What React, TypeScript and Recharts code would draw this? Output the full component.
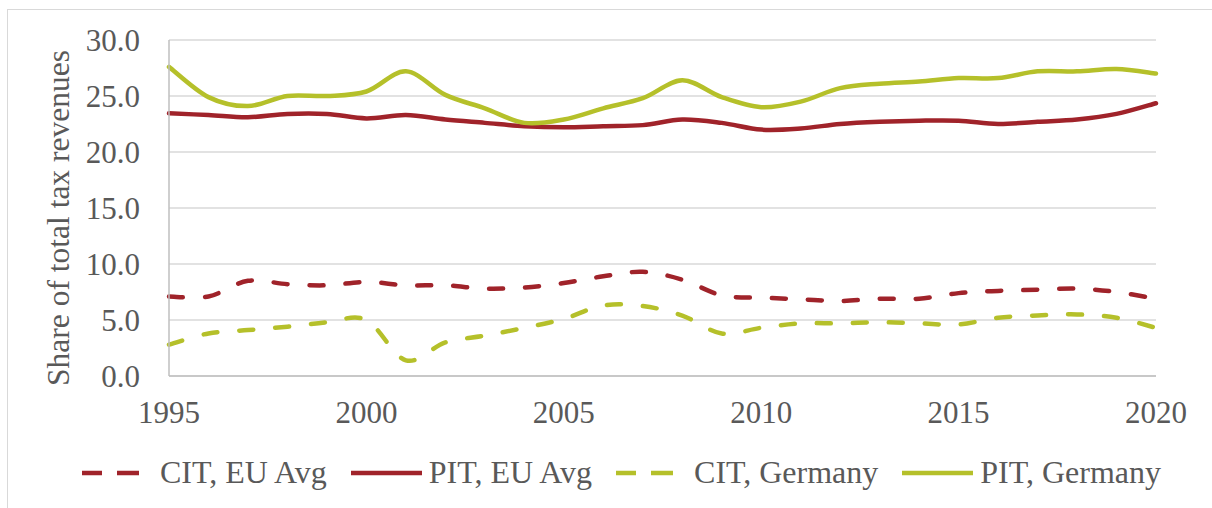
import React from "react";
import { LineChart, Line, XAxis, YAxis, CartesianGrid, Legend } from "recharts";

const years = [
  1995, 1996, 1997, 1998, 1999, 2000, 2001, 2002, 2003, 2004, 2005, 2006, 2007,
  2008, 2009, 2010, 2011, 2012, 2013, 2014, 2015, 2016, 2017, 2018, 2019, 2020,
];
const citEu = [
  7.1, 7.1, 8.5, 8.2, 8.1, 8.4, 8.1, 8.1, 7.8, 7.9, 8.3, 8.9, 9.3, 8.6, 7.2,
  7.0, 6.85, 6.7, 6.9, 6.9, 7.4, 7.6, 7.7, 7.8, 7.5, 6.9,
];
const pitEu = [
  23.45, 23.3, 23.1, 23.4, 23.4, 23.0, 23.3, 22.9, 22.6, 22.3, 22.2, 22.3,
  22.4, 22.9, 22.6, 22.0, 22.1, 22.5, 22.7, 22.8, 22.8, 22.5, 22.7, 22.9, 23.4,
  24.35,
];
const citDe = [
  2.8, 3.8, 4.1, 4.4, 4.8, 5.0, 1.4, 3.0, 3.6, 4.3, 5.1, 6.3, 6.25, 5.4, 3.8,
  4.3, 4.7, 4.7, 4.8, 4.7, 4.6, 5.2, 5.4, 5.5, 5.2, 4.3,
];
const pitDe = [
  27.6, 24.9, 24.1, 25.0, 25.0, 25.4, 27.2, 25.1, 23.9, 22.6, 22.9, 23.9, 24.8,
  26.4, 24.9, 24.0, 24.5, 25.7, 26.1, 26.3, 26.6, 26.6, 27.2, 27.2, 27.4, 27.0,
];
const yTicks = [0, 5, 10, 15, 20, 25, 30];
const xTicks = [1995, 2000, 2005, 2010, 2015, 2020];

const RED = "#a0232a";
const GREEN = "#b5c02a";
const FONT = '"Liberation Serif", "Times New Roman", serif';

const series = [
  { key: "citEu", name: "CIT, EU Avg", color: RED, dashed: true },
  { key: "pitEu", name: "PIT, EU Avg", color: RED, dashed: false },
  { key: "citDe", name: "CIT, Germany", color: GREEN, dashed: true },
  { key: "pitDe", name: "PIT, Germany", color: GREEN, dashed: false },
];

const data = years.map((year, i) => ({
  year,
  citEu: citEu[i],
  pitEu: pitEu[i],
  citDe: citDe[i],
  pitDe: pitDe[i],
}));

// Excel-style smoothing (uniform Catmull-Rom as cubic beziers)
function excelSmooth(context: any) {
  let pts: number[][] = [];
  return {
    areaStart() {},
    areaEnd() {},
    lineStart() {
      pts = [];
    },
    point(x: number, y: number) {
      pts.push([+x, +y]);
    },
    lineEnd() {
      if (!pts.length) return;
      context.moveTo(pts[0][0], pts[0][1]);
      for (let i = 0; i < pts.length - 1; i++) {
        const p0 = pts[i - 1] || pts[i];
        const p1 = pts[i];
        const p2 = pts[i + 1];
        const p3 = pts[i + 2] || pts[i + 1];
        context.bezierCurveTo(
          p1[0] + (p2[0] - p0[0]) / 6,
          p1[1] + (p2[1] - p0[1]) / 6,
          p2[0] - (p3[0] - p1[0]) / 6,
          p2[1] - (p3[1] - p1[1]) / 6,
          p2[0],
          p2[1]
        );
      }
    },
  };
}

function LegendRow() {
  return (
    <div
      style={{
        display: "flex",
        alignItems: "center",
        paddingLeft: 82,
        fontFamily: FONT,
        fontSize: 32,
        color: "#595959",
        whiteSpace: "nowrap",
      }}
    >
      {series.map((s) => (
        <div
          key={s.key}
          style={{ display: "flex", alignItems: "center", marginRight: 24 }}
        >
          <svg width={74} height={10} style={{ marginRight: 4 }}>
            <line
              x1={0}
              y1={5}
              x2={71}
              y2={5}
              stroke={s.color}
              strokeWidth={4.5}
              strokeDasharray={s.dashed ? "20 15 22 100" : undefined}
            />
          </svg>
          <span>{s.name}</span>
        </div>
      ))}
    </div>
  );
}

export default function App() {
  return (
    <div
      style={{
        position: "absolute",
        left: 0,
        top: 0,
        width: 1212,
        height: 508,
        background: "#fff",
        overflow: "hidden",
      }}
    >
      <div
        style={{
          position: "absolute",
          left: 7,
          top: 9,
          width: 1220,
          height: 520,
          border: "1px solid #d9d9d9",
        }}
      />
      <LineChart
        width={1212}
        height={508}
        data={data}
        margin={{ top: 40, right: 56, bottom: 102, left: 0 }}
      >
        <CartesianGrid stroke="#d9d9d9" strokeWidth={1.5} vertical={false} />
        <XAxis
          dataKey="year"
          type="number"
          domain={[1995, 2020]}
          ticks={xTicks}
          height={30}
          tickLine={false}
          tickSize={0}
          tickMargin={25}
          axisLine={{ stroke: "#bfbfbf", strokeWidth: 1.5 }}
          tick={{ fill: "#595959", fontSize: 31, fontFamily: FONT }}
          interval={0}
        />
        <YAxis
          width={169}
          domain={[0, 30]}
          ticks={yTicks}
          tickLine={false}
          tickSize={0}
          tickMargin={29}
          axisLine={{ stroke: "#bfbfbf", strokeWidth: 1.5 }}
          tick={{ fill: "#595959", fontSize: 31, fontFamily: FONT }}
          tickFormatter={(v: number) => v.toFixed(1)}
          label={{
            value: "Share of total tax revenues",
            angle: -90,
            position: "center",
            dx: -27,
            dy: 10,
            fill: "#595959",
            fontSize: 31.5,
            fontFamily: FONT,
          }}
        />
        <Legend
          verticalAlign="middle"
          align="center"
          layout="horizontal"
          wrapperStyle={{ top: 454, left: 0, width: 1212 }}
          content={() => <LegendRow />}
        />
        {series.map((s) => (
          <Line
            key={s.key}
            dataKey={s.key}
            name={s.name}
            type={excelSmooth as any}
            stroke={s.color}
            strokeWidth={4.5}
            strokeDasharray={s.dashed ? "14 22" : undefined}
            strokeLinecap="round"
            dot={false}
            activeDot={false}
            isAnimationActive={false}
          />
        ))}
      </LineChart>
    </div>
  );
}
